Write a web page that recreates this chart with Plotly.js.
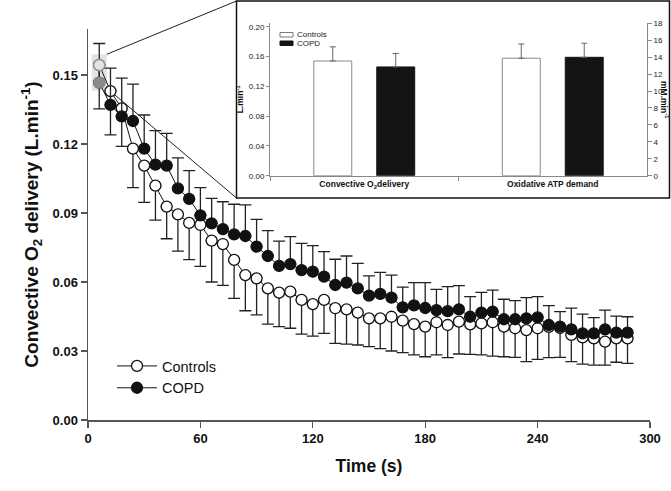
<!DOCTYPE html>
<html><head><meta charset="utf-8">
<script src="https://cdn.plot.ly/plotly-3.0.1.min.js"></script>
<style>html,body{margin:0;padding:0;background:#fff}#chart{width:671px;height:491px}</style>
</head><body><div id="chart"></div>
<script>
// ---- data ----
const time = [6,12,18,24,30,36,42,48,54,60,66,72,78,84,90,96,102,108,114,120,126,132,138,144,150,156,162,168,174,180,186,192,198,204,210,216,222,228,234,240,246,252,258,264,270,276,282,288];
const controlsMean = [0.1543,0.143,0.1355,0.118,0.1106,0.1019,0.0928,0.0894,0.0857,0.0848,0.078,0.0765,0.0696,0.063,0.0616,0.0572,0.0554,0.0558,0.0522,0.0504,0.0522,0.0486,0.0481,0.0467,0.0442,0.0442,0.0449,0.0432,0.0417,0.0406,0.0425,0.0413,0.0428,0.0416,0.042,0.0425,0.0406,0.0399,0.0391,0.0399,0.0405,0.040,0.037,0.0359,0.0355,0.0341,0.0355,0.0355];
const controlsSD = [0.019,0.019,0.0165,0.017,0.016,0.015,0.014,0.016,0.016,0.018,0.018,0.018,0.0167,0.0155,0.0159,0.0155,0.0148,0.0159,0.0149,0.0139,0.0145,0.0153,0.0151,0.0141,0.0123,0.0132,0.0149,0.0139,0.0134,0.0131,0.0142,0.0142,0.0141,0.0131,0.0137,0.0147,0.0131,0.0127,0.0137,0.0135,0.0134,0.0128,0.0116,0.0116,0.0116,0.0102,0.0104,0.0109];
const copdMean = [0.1467,0.137,0.132,0.130,0.118,0.111,0.1106,0.1007,0.0961,0.089,0.0855,0.083,0.0807,0.080,0.0754,0.0713,0.067,0.0678,0.0652,0.0645,0.0623,0.0587,0.0597,0.0572,0.0541,0.0548,0.0532,0.049,0.0498,0.0487,0.0478,0.0473,0.0481,0.0449,0.0467,0.0471,0.0438,0.0438,0.0442,0.0446,0.0413,0.0406,0.0394,0.0377,0.0377,0.0394,0.038,0.038];
const copdSD = [0.017,0.016,0.0166,0.016,0.0146,0.0148,0.014,0.0133,0.0123,0.012,0.0109,0.0119,0.0131,0.0135,0.0118,0.011,0.0108,0.0119,0.0116,0.0113,0.0109,0.0112,0.0116,0.0109,0.0086,0.0094,0.0098,0.0088,0.0099,0.011,0.009,0.0107,0.0103,0.0087,0.0088,0.0094,0.0087,0.0081,0.009,0.009,0.0084,0.0065,0.0092,0.0083,0.0068,0.0084,0.0072,0.0069];
const xTicks = [0,60,120,180,240,300];
const yTicks = [0,0.03,0.06,0.09,0.12,0.15];
const insetCategories = ['Convective O<sub>2</sub>delivery','Oxidative ATP demand'];
const insetControls = [0.154, 13.87];
const insetControlsSD = [0.019, 1.68];
const insetCOPD = [0.146, 13.98];
const insetCOPDSD = [0.018, 1.66];
const insetLeftTicks = [0,0.04,0.08,0.12,0.16,0.20];
const insetRightTicks = [0,2,4,6,8,10,12,14,16,18];

// ---- helpers (pixel -> paper) ----
const L=88, R=650, T=20, B=420, W=R-L, H=B-T;
const px = x => (x-L)/W;
const py = y => (B-y)/H;
const FONT = 'Liberation Sans, Arial, sans-serif';
const zeros = a => a.map(() => 0);

const traces = [
  {x: time, y: controlsMean, name: 'Controls', mode: 'lines+markers', xaxis:'x', yaxis:'y',
   line:{color:'#111', width:1},
   marker:{symbol:'circle', size:11, color:'#fff', line:{color:'#111', width:1.3}},
   error_y:{type:'data', symmetric:false, array: zeros(controlsSD), arrayminus: controlsSD, color:'#222', thickness:1.3, width:6}},
  {x: time, y: copdMean, name: 'COPD', mode: 'lines+markers', xaxis:'x', yaxis:'y',
   line:{color:'#111', width:1},
   marker:{symbol:'circle', size:11, color:'#111', line:{color:'#111', width:1.3}},
   error_y:{type:'data', symmetric:false, array: copdSD, arrayminus: zeros(copdSD), color:'#222', thickness:1.3, width:6}},
  {x: [time[0]], y: [controlsMean[0]], mode:'markers', showlegend:false, hoverinfo:'skip',
   marker:{symbol:'circle', size:11, color:'#e4e4e4', line:{color:'#9a9a9a', width:1.3}}},
  {x: [time[0]], y: [copdMean[0]], mode:'markers', showlegend:false, hoverinfo:'skip',
   marker:{symbol:'circle', size:11, color:'#8a8a8a', line:{color:'#8a8a8a', width:1.3}}},
  // inset bars
  {type:'bar', x:[insetCategories[0]], y:[insetControls[0]], xaxis:'x2', yaxis:'y2', showlegend:false,
   marker:{color:'#fff', line:{color:'#8a8a8a', width:1}},
   error_y:{type:'data', symmetric:false, array:[insetControlsSD[0]], arrayminus:[0], color:'#666', thickness:1, width:3}},
  {type:'bar', x:[insetCategories[0]], y:[insetCOPD[0]], xaxis:'x2', yaxis:'y2', showlegend:false,
   marker:{color:'#141414', line:{color:'#141414', width:1}},
   error_y:{type:'data', symmetric:false, array:[insetCOPDSD[0]], arrayminus:[0], color:'#666', thickness:1, width:3}},
  {type:'bar', x:[insetCategories[1]], y:[insetControls[1]], xaxis:'x2', yaxis:'y3', showlegend:false,
   marker:{color:'#fff', line:{color:'#8a8a8a', width:1}},
   error_y:{type:'data', symmetric:false, array:[insetControlsSD[1]], arrayminus:[0], color:'#666', thickness:1, width:3}},
  {type:'bar', x:[insetCategories[1]], y:[insetCOPD[1]], xaxis:'x2', yaxis:'y3', showlegend:false,
   marker:{color:'#141414', line:{color:'#141414', width:1}},
   error_y:{type:'data', symmetric:false, array:[insetCOPDSD[1]], arrayminus:[0], color:'#666', thickness:1, width:3}}
];

const insetTick = {family: FONT, size: 8, color:'#222'};
const layout = {
  width: 671, height: 491,
  margin: {l: L, r: 671-R, t: T, b: 491-B, pad: 0},
  paper_bgcolor:'#fff', plot_bgcolor:'#fff',
  font: {family: FONT, color:'#111'},
  barmode:'group', bargap:0.332, bargroupgap:0.397,
  showlegend: true,
  legend: {x: px(112), y: py(350), xanchor:'left', yanchor:'top', bgcolor:'rgba(0,0,0,0)',
           font:{family: FONT, size:14.5, color:'#111'}, itemwidth:40, tracegroupgap:0},
  xaxis: {domain:[0,1], anchor:'y', range:[0,300], tickvals: xTicks, ticks:'outside', ticklen:6, tickwidth:1.3,
          tickcolor:'#555', showline:true, linecolor:'#555', linewidth:1.5, showgrid:false, zeroline:false,
          tickfont:{family: FONT, size:13, color:'#111', weight:'bold'},
          title:{text:'Time (s)', font:{family: FONT, size:17.5, color:'#111', weight:'bold'}, standoff:14}},
  yaxis: {domain:[0, py(29)], anchor:'x', range:[0,0.17], tickvals: yTicks, tickformat:'.2f', ticks:'outside', ticklen:6, tickwidth:1.3,
          tickcolor:'#555', showline:true, linecolor:'#555', linewidth:1.5, showgrid:false, zeroline:false,
          tickfont:{family: FONT, size:13, color:'#111', weight:'bold'},
          title:{text:'Convective O<sub>2</sub> delivery (L.min<sup>-1</sup>)', font:{family: FONT, size:19, color:'#111', weight:'bold'}, standoff:9}},
  xaxis2: {domain:[px(270), px(647)], anchor:'y2', type:'category', range:[-0.5,1.5], showline:true, linecolor:'#888', linewidth:1,
           ticks:'outside', tickson:'boundaries', ticklen:4, tickcolor:'#888', showgrid:false, zeroline:false,
           tickfont:{family: FONT, size:8.5, color:'#111', weight:'bold'}},
  yaxis2: {domain:[py(175.7), py(23)], anchor:'x2', range:[0,0.205], tickvals: insetLeftTicks, tickformat:'.2f',
           ticks:'outside', ticklen:3, tickcolor:'#888', showline:true, linecolor:'#888', linewidth:1, showgrid:false, zeroline:false,
           tickfont: insetTick,
           title:{text:'L.min<sup>-1</sup>', font:{family: FONT, size:8.5, color:'#111', weight:'bold'}, standoff:3}},
  yaxis3: {overlaying:'y2', side:'right', anchor:'x2', range:[0,18.03], tickvals: insetRightTicks,
           ticks:'outside', ticklen:4, tickcolor:'#888', showline:true, linecolor:'#888', linewidth:1, showgrid:false, zeroline:false,
           tickfont: insetTick},
  shapes: [
    {type:'rect', xref:'x', yref:'y', x0:2, x1:10, y0:0.1432, y1:0.159, fillcolor:'#e2e2e2', line:{width:0}, layer:'below'},
    {type:'line', xref:'paper', yref:'paper', x0:px(106.7), y0:py(54.3), x1:px(236.5), y1:py(1), line:{color:'#222', width:1}, layer:'below'},
    {type:'line', xref:'paper', yref:'paper', x0:px(106.7), y0:py(88), x1:px(236.5), y1:py(198), line:{color:'#222', width:1}, layer:'below'},
    {type:'rect', xref:'paper', yref:'paper', x0:px(236.5), x1:px(669.5), y0:py(198), y1:py(1), fillcolor:'rgba(0,0,0,0)', line:{color:'#111', width:1.5}, layer:'below'},
    // inset legend swatches
    {type:'rect', xref:'paper', yref:'paper', x0:px(280), x1:px(293), y0:py(37), y1:py(32.5), fillcolor:'#fff', line:{color:'#777', width:1}},
    {type:'rect', xref:'paper', yref:'paper', x0:px(280), x1:px(293), y0:py(45.5), y1:py(41), fillcolor:'#141414', line:{color:'#141414', width:1}}
  ],
  annotations: [
    {xref:'paper', yref:'paper', x:px(295), y:py(35), xanchor:'left', yanchor:'middle', showarrow:false, text:'Controls', font:{family: FONT, size:8, color:'#222'}},
    {xref:'paper', yref:'paper', x:px(295), y:py(43.5), xanchor:'left', yanchor:'middle', showarrow:false, text:'COPD', font:{family: FONT, size:8, color:'#222'}},
    {xref:'paper', yref:'paper', x:px(664), y:py(100), xanchor:'center', yanchor:'middle', showarrow:false, textangle:90, text:'mM.min<sup>-1</sup>', font:{family: FONT, size:8.5, color:'#111', weight:'bold'}}
  ]
};
Plotly.newPlot('chart', traces, layout, {displayModeBar:false, staticPlot:true});
</script>
</body></html>
